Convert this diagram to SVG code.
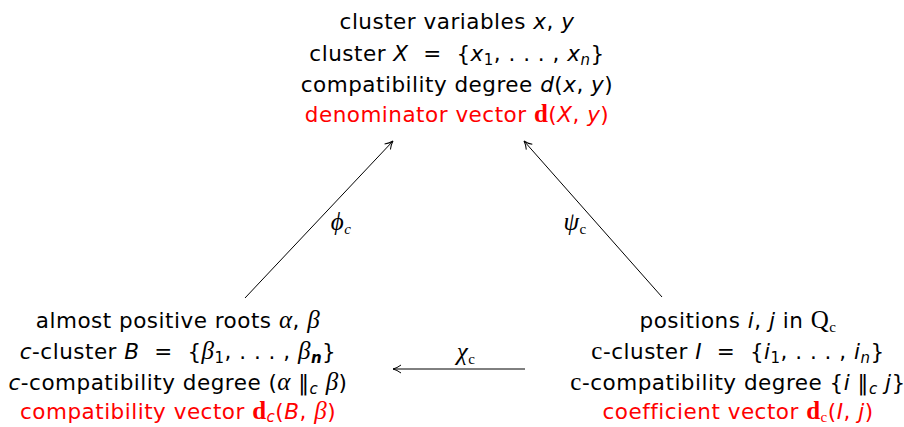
<svg xmlns="http://www.w3.org/2000/svg" width="904" height="427" viewBox="0 0 904 427">
<defs>
<marker id="ah" viewBox="0 0 10 10" refX="9" refY="5" markerWidth="10" markerHeight="10" markerUnits="userSpaceOnUse" orient="auto">
<path d="M1,1 Q5,4 9,5 Q5,6 1,9" fill="none" stroke="#000" stroke-width="1"/>
</marker>
<style>
text{font-family:"DejaVu Sans","Liberation Sans",sans-serif;font-size:21.5px;letter-spacing:0.5px;fill:#000;text-anchor:middle;white-space:pre}
.red{fill:#ff0000}
.it{font-style:italic}
.m{font-family:"Liberation Serif","DejaVu Serif",serif;font-style:italic;font-size:25px}
.rm{font-family:"Liberation Serif","DejaVu Serif",serif;font-size:25px}
.bf{font-family:"Liberation Serif","DejaVu Serif",serif;font-weight:bold;font-size:25px}
.sub{font-size:15px}
.lbl{font-size:25px}
line{stroke:#000;stroke-width:1}
</style>
</defs>
<g id="top">
<text x="457" y="29">cluster variables <tspan class="it">x</tspan>, <tspan class="it">y</tspan></text>
<text x="457" y="61" xml:space="preserve">cluster <tspan class="it">X</tspan>  =  {<tspan class="it">x</tspan><tspan class="sub" dy="4">1</tspan><tspan dy="-4">, . . . , </tspan><tspan class="it">x</tspan><tspan class="sub it" dy="4">n</tspan><tspan dy="-4">}</tspan></text>
<text x="457" y="92">compatibility degree <tspan class="it">d</tspan>(<tspan class="it">x</tspan>, <tspan class="it">y</tspan>)</text>
<text x="457" y="122" class="red">denominator vector <tspan class="bf">d</tspan>(<tspan class="it">X</tspan>, <tspan class="it">y</tspan>)</text>
</g>
<g id="left">
<text x="178" y="328">almost positive roots <tspan class="m">α</tspan>, <tspan class="m">β</tspan></text>
<text x="178" y="359" xml:space="preserve"><tspan class="it">c</tspan>-cluster <tspan class="it">B</tspan>  =  {<tspan class="m">β</tspan><tspan class="sub" dy="4">1</tspan><tspan dy="-4">, . . . , </tspan><tspan class="m">β</tspan><tspan class="sub it" dy="4" font-weight="bold">n</tspan><tspan dy="-4">}</tspan></text>
<text x="178" y="390" xml:space="preserve"><tspan class="it">c</tspan>-compatibility degree (<tspan class="m">α</tspan> ‖<tspan class="sub it" dy="4">c</tspan><tspan dy="-4"> </tspan><tspan class="m">β</tspan>)</text>
<text x="178" y="419" class="red">compatibility vector <tspan class="bf">d</tspan><tspan class="sub it" dy="3">c</tspan><tspan dy="-3">(</tspan><tspan class="it">B</tspan>, <tspan class="m">β</tspan>)</text>
</g>
<g id="right">
<text x="738" y="328">positions <tspan class="it">i</tspan>, <tspan class="it">j</tspan> in <tspan class="rm">Q</tspan><tspan class="rm sub" dy="4">c</tspan></text>
<text x="738" y="359" xml:space="preserve"><tspan class="rm">c</tspan>-cluster <tspan class="it">I</tspan>  =  {<tspan class="it">i</tspan><tspan class="sub" dy="4">1</tspan><tspan dy="-4">, . . . , </tspan><tspan class="it">i</tspan><tspan class="sub it" dy="4">n</tspan><tspan dy="-4">}</tspan></text>
<text x="738" y="390" xml:space="preserve"><tspan class="rm">c</tspan>-compatibility degree {<tspan class="it">i</tspan> ‖<tspan class="sub it" dy="4">c</tspan><tspan dy="-4"> </tspan><tspan class="it">j</tspan>}</text>
<text x="738" y="419" class="red">coefficient vector <tspan class="bf">d</tspan><tspan class="rm sub" dy="3">c</tspan><tspan dy="-3">(</tspan><tspan class="it">I</tspan>, <tspan class="it">j</tspan>)</text>
</g>
<g id="connectors">
<line x1="245" y1="298" x2="393" y2="141" marker-end="url(#ah)"/>
<line x1="662" y1="297" x2="524" y2="141" marker-end="url(#ah)"/>
<line x1="525" y1="369" x2="393" y2="369" marker-end="url(#ah)"/>
<text class="m lbl" x="341" y="230">ϕ<tspan class="sub it" dy="4">c</tspan></text>
<text class="m lbl" x="575" y="230">ψ<tspan class="rm sub" dy="4" font-style="normal">c</tspan></text>
<text class="m lbl" x="466" y="360">χ<tspan class="rm sub" dy="4" font-style="normal">c</tspan></text>
</g>
</svg>
